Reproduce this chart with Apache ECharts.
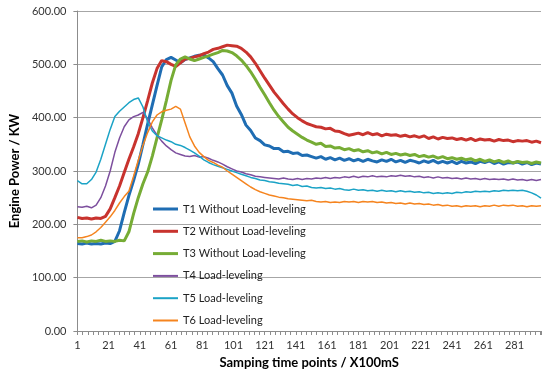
<!DOCTYPE html>
<html>
<head>
<meta charset="utf-8">
<script src="https://cdn.jsdelivr.net/npm/echarts@6/dist/echarts.min.js"></script>
<style>html,body{margin:0;padding:0;background:#fff}#c{width:550px;height:379px}</style>
</head>
<body>
<div id="c"></div>
<script>
// Sampling time points (every 3rd sample, X100mS)
var xPoints = [1,4,7,10,13,16,19,22,25,28,31,34,37,40,43,46,49,52,55,58,61,64,67,70,73,76,79,82,85,88,91,94,97,100,103,106,109,112,115,118,121,124,127,130,133,136,139,142,145,148,151,154,157,160,163,166,169,172,175,178,181,184,187,190,193,196,199,202,205,208,211,214,217,220,223,226,229,232,235,238,241,244,247,250,253,256,259,262,265,268,271,274,277,280,283,286,289,292,295,298];

var seriesNames = ["T1 Without Load-leveling","T2 Without Load-leveling","T3 Without Load-leveling","T4 Load-leveling","T5 Load-leveling","T6 Load-leveling"];

var t1 = [164,163,165,163,164,163,165,164,168,188,222,254,282,313,350,388,424,460,495,509,513,508,503,509,512,515,517,518,512,505,492,480,460,446,422,406,386,376,362,357,349,347,342,342,336,337,333,334,329,330,327,324,327,322,325,321,324,320,323,319,322,318,322,319,317,321,318,322,317,320,316,320,318,315,319,316,320,315,318,315,318,314,318,315,317,314,318,316,319,314,317,313,316,315,317,313,316,312,315,313];
var t2 = [213,211,212,210,212,211,215,229,250,272,297,322,345,370,400,432,465,492,507,505,500,496,503,510,511,514,516,520,523,528,530,533,536,535,534,530,523,514,502,488,474,461,448,437,426,416,407,400,394,389,386,383,382,379,380,375,374,370,367,369,371,368,372,368,370,366,369,367,368,365,367,364,366,363,366,361,364,360,363,361,362,359,361,358,361,357,360,358,359,356,359,357,358,355,357,356,357,354,356,353];
var t3 = [168,169,167,169,168,170,168,169,168,170,169,186,220,250,276,298,328,362,396,432,470,499,510,514,510,507,510,513,516,519,522,526,525,522,516,508,498,486,472,457,443,428,414,402,392,382,375,369,363,358,354,350,352,346,347,343,344,340,342,338,340,336,338,334,336,332,335,331,333,330,332,329,331,327,329,326,328,324,327,323,325,322,324,321,323,319,322,318,321,317,320,316,319,315,318,316,317,314,317,315];
var t4 = [233,232,234,231,236,250,272,300,335,362,383,396,402,405,410,398,381,367,356,347,340,334,331,328,327,329,326,327,324,320,317,313,308,304,300,298,295,293,290,289,288,287,286,285,287,285,284,286,284,286,285,287,286,288,286,288,287,289,288,290,288,290,289,291,289,290,289,291,290,292,290,291,289,290,288,289,287,289,287,288,286,287,285,287,285,286,284,286,284,285,284,285,283,285,283,284,282,284,282,284];
var t5 = [282,276,276,284,298,322,350,378,402,412,420,428,434,437,420,392,375,366,362,358,355,350,348,344,339,334,328,321,316,312,309,306,303,300,297,294,291,288,286,283,282,280,279,277,276,275,273,274,271,272,269,268,269,267,268,266,267,265,264,266,264,265,263,264,262,264,262,263,261,263,261,262,260,261,259,260,258,259,258,259,258,260,259,261,260,262,261,262,261,263,262,264,263,264,263,264,262,259,255,249];
var t6 = [175,175,177,180,186,194,204,214,226,240,252,262,290,320,348,372,392,405,411,414,416,421,416,390,364,347,335,327,320,316,311,307,300,294,288,282,276,270,265,261,258,255,253,251,250,248,247,246,245,244,245,243,242,243,241,242,241,243,242,243,241,243,242,243,241,242,240,241,239,240,238,240,238,239,237,238,236,237,235,236,234,235,233,235,234,235,233,235,234,236,234,236,235,236,234,235,233,235,234,235];

var yTicks = [0,100,200,300,400,500,600];

var colors = ['#1f6db3','#c8332e','#76ac35','#7d4f9e','#1ba3c6','#f5841f'];
var widths = [3,3,3,1.5,1.5,1.5];
var allValues = [t1,t2,t3,t4,t5,t6];

var thickIcon = 'path://M0,0M0,5.5L25,5.5L25,8.5L0,8.5ZM25,14';
var thinIcon = 'path://M0,0M0,6L25,6L25,8L0,8ZM25,14';

function pairs(vals){ return xPoints.map(function(x,i){ return [x, vals[i]]; }); }

var chart = echarts.init(document.getElementById('c'), null, {renderer:'canvas'});
var FONT = 'Lato';
chart.setOption({
  animation:false,
  backgroundColor:'#fff',
  textStyle:{fontFamily:FONT},
  grid:{left:72, right:9, top:11, bottom:48, containLabel:false},
  legend:{
    orient:'vertical', left:148, top:197, itemWidth:25, itemHeight:14, itemGap:8.3,
    itemStyle:{borderWidth:0},
    data:seriesNames.map(function(n,i){ return {name:n, icon: widths[i] > 2 ? thickIcon : thinIcon}; }),
    textStyle:{fontFamily:FONT, fontSize:11, color:'#222'}
  },
  xAxis:{
    type:'value', min:1, max:298, interval:20,
    name:'Samping time points / X100mS', nameLocation:'middle', nameGap:23,
    nameTextStyle:{fontFamily:FONT, fontWeight:'bold', fontSize:13, color:'#000', verticalAlign:'top'},
    axisLine:{show:true, lineStyle:{color:'#8c8c8c', width:1}},
    axisTick:{show:true, length:4, inside:false, lineStyle:{color:'#8c8c8c'}},
    minorTick:{show:true, splitNumber:6, length:4, lineStyle:{color:'#8c8c8c'}},
    axisLabel:{fontFamily:FONT, fontSize:11, color:'#333', margin:9, showMaxLabel:false},
    splitLine:{show:false}
  },
  yAxis:{
    type:'value', min:yTicks[0], max:yTicks[yTicks.length-1], interval:100,
    name:'Engine Power / KW', nameLocation:'middle', nameGap:48, nameRotate:90,
    nameTextStyle:{fontFamily:FONT, fontWeight:'bold', fontSize:13, color:'#000'},
    axisLine:{show:true, lineStyle:{color:'#8c8c8c', width:1}},
    axisTick:{show:true, length:4, lineStyle:{color:'#8c8c8c'}},
    axisLabel:{fontFamily:FONT, fontSize:11, color:'#333', margin:11, formatter:function(v){return v.toFixed(2);}},
    splitLine:{show:true, lineStyle:{color:'#a6a6a6', width:1}}
  },
  series: seriesNames.map(function(n,i){
    return {
      name:n, type:'line', data:pairs(allValues[i]), symbol:'none', showSymbol:false,
      lineStyle:{color:colors[i], width:widths[i]}, itemStyle:{color:colors[i]}
    };
  })
});
</script>
</body>
</html>
